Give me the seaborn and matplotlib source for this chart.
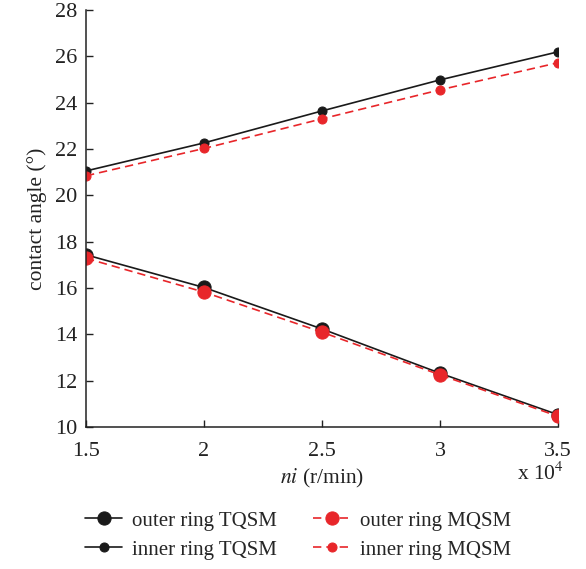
import numpy as np
import pandas as pd
import matplotlib
matplotlib.use("Agg")
import matplotlib.pyplot as plt
import seaborn as sns
from matplotlib.ticker import FuncFormatter

# Rotational speed (x 10^4 r/min)
speed = [1.5, 2.0, 2.5, 3.0, 3.5]

# Contact angles (degrees)
outer_tqsm = [17.43, 16.02, 14.23, 12.32, 10.53]
inner_tqsm = [21.05, 22.26, 23.64, 24.98, 26.19]
outer_mqsm = [17.28, 15.82, 14.09, 12.25, 10.46]
inner_mqsm = [20.84, 22.02, 23.30, 24.55, 25.72]

labels = ["outer ring TQSM", "inner ring TQSM", "outer ring MQSM", "inner ring MQSM"]

sns.set_theme(style="ticks")
plt.rcParams["font.family"] = ["Liberation Serif", "DejaVu Serif"]
plt.rcParams["mathtext.fontset"] = "stix"
plt.rcParams["xtick.direction"] = "in"
plt.rcParams["ytick.direction"] = "in"

fig = plt.figure(figsize=(5.86, 5.69), dpi=100)
ax = fig.add_axes([0.1468, 0.2496, 0.8055, 0.733])

black = "#1a1a1a"
red = "#e8262a"
text_col = "#222222"

series = [
    (outer_tqsm, black, "-", 9.5),
    (inner_tqsm, black, "-", 6.5),
    (outer_mqsm, red, (0, (5, 3)), 9.5),
    (inner_mqsm, red, (0, (5, 3)), 6.5),
]
for (vals, col, ls, ms), lab in zip(series, labels):
    sns.lineplot(x=speed, y=vals, ax=ax, color=col, linestyle=ls, linewidth=1.2,
                 marker="o", markersize=ms, markeredgecolor=col, label=lab)

ax.set_xlim(1.5, 3.5)
ax.set_ylim(10, 28)
ax.set_xticks(speed)
ax.set_yticks(np.arange(10, 29, 2))
ax.xaxis.set_major_formatter(FuncFormatter(lambda v, p: f"{v:g}"))
ax.tick_params(labelsize=16, length=5, width=1, colors=text_col)
ax.tick_params(axis="x", pad=11)
ax.tick_params(axis="y", pad=6)
for s in ("top", "right"):
    ax.spines[s].set_visible(False)
for s in ("left", "bottom"):
    ax.spines[s].set_color(text_col)
    ax.spines[s].set_linewidth(1.1)

ax.set_ylabel("contact angle (°)", fontsize=15.5, color=text_col, labelpad=6)
ax.set_xlabel(r"$\it{ni}$ (r/min)", fontsize=15.5, color=text_col, labelpad=4)
fig.text(0.922, 0.167, r"x 10$^{4}$", fontsize=15.5, color=text_col, ha="center", va="center")

handles, labs = ax.get_legend_handles_labels()
ax.legend_.remove()
fig.legend(handles, labs, ncol=2, loc="center left", bbox_to_anchor=(0.145, 0.059),
           frameon=False, fontsize=15, handlelength=1.8, columnspacing=1.75,
           labelspacing=0.45, handletextpad=0.45, borderpad=0, borderaxespad=0)

fig.savefig("out.png", dpi=100)
